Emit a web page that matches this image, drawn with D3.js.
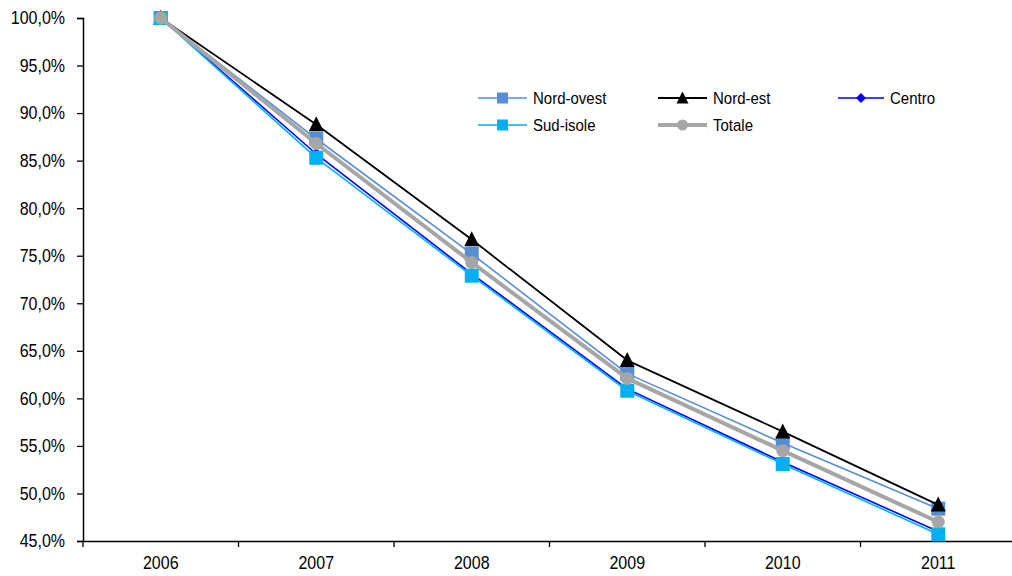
<!DOCTYPE html>
<html><head><meta charset="utf-8">
<script src="https://cdn.jsdelivr.net/npm/d3@7"></script>
<style>
body{margin:0;background:#fff;}
text{font-family:"Liberation Sans",Arial,sans-serif;fill:#000;}
</style></head>
<body><svg id="c" width="1012" height="576"></svg>
<script>
const years = ["2006","2007","2008","2009","2010","2011"];
const nordOvest = [1.000, 0.873, 0.752, 0.626, 0.553, 0.484];
const nordEst   = [1.000, 0.888, 0.767, 0.640, 0.565, 0.488];
const centro    = [1.000, 0.857, 0.731, 0.610, 0.533, 0.460];
const sudIsole  = [1.000, 0.853, 0.729, 0.608, 0.531, 0.457];
const totale    = [1.000, 0.868, 0.743, 0.621, 0.545, 0.470];
const yTicks = [0.45,0.50,0.55,0.60,0.65,0.70,0.75,0.80,0.85,0.90,0.95,1.00];

const series = [
  {name:"Nord-ovest", values:nordOvest, color:"#558ED5", width:1.6, marker:"square", size:14},
  {name:"Nord-est", values:nordEst, color:"#000000", width:1.8, marker:"triangle", size:15},
  {name:"Centro", values:centro, color:"#0000FF", width:1.6, marker:"diamond", size:12},
  {name:"Sud-isole", values:sudIsole, color:"#00B0F0", width:1.6, marker:"square", size:14},
  {name:"Totale", values:totale, color:"#A6A6A6", width:4, marker:"circle", size:13}
];

const svg = d3.select("#c");
const x = d3.scaleBand().domain(years).range([83, 1016]);
const y = d3.scaleLinear().domain([0.45, 1.0]).range([541, 18]);

const fmt = v => d3.format(".1f")(v*100).replace(".", ",") + "%";
const SY = 1.15;

// axes
const yAxis = svg.append("g").attr("transform","translate(83,0)")
  .call(d3.axisLeft(y).tickValues(yTicks).tickFormat(fmt).tickSize(6).tickPadding(12));
yAxis.select(".domain").attr("stroke","#000").attr("stroke-width",1.5);
yAxis.selectAll(".tick line").attr("stroke","#000").attr("stroke-width",1.3);
yAxis.selectAll("text").attr("font-size","16px").attr("font-family","Liberation Sans, Arial, sans-serif")
  .attr("transform",`scale(1,${SY})`);

const xAxis = svg.append("g").attr("transform","translate(0,541)")
  .call(d3.axisBottom(x).tickSize(0).tickPadding(13));
xAxis.select(".domain").attr("stroke","#000").attr("stroke-width",1.5);
xAxis.selectAll("text").attr("font-size","16px").attr("font-family","Liberation Sans, Arial, sans-serif")
  .attr("transform",`scale(1,${SY})`);
// boundary ticks between categories
svg.append("g").selectAll("line").data(years).join("line")
  .attr("x1", d => x(d)).attr("x2", d => x(d))
  .attr("y1", 541).attr("y2", 547).attr("stroke","#000").attr("stroke-width",1.3);

function markerPath(type, s){
  if(type==="square") return d3.symbol(d3.symbolSquare, s*s)();
  if(type==="triangle"){ const h=s; return `M0,${-h*0.55}L${s/2},${h*0.45}L${-s/2},${h*0.45}Z`; }
  if(type==="diamond"){ const r=s/2; return `M0,${-r}L${r},0L0,${r}L${-r},0Z`; }
  if(type==="circle") return d3.symbol(d3.symbolCircle, Math.PI*(s/2)*(s/2))();
}

const cx = d => x(d) + x.bandwidth()/2;
const line = d3.line().x((v,i)=>cx(years[i])).y(v=>y(v));

series.forEach(s => {
  const g = svg.append("g");
  g.append("path").datum(s.values).attr("d", line)
    .attr("fill","none").attr("stroke", s.color).attr("stroke-width", s.width).attr("stroke-linejoin","round");
  g.selectAll("path.m").data(s.values).join("path").attr("class","m")
    .attr("transform",(v,i)=>`translate(${cx(years[i])},${y(v)})`)
    .attr("d", markerPath(s.marker, s.size)).attr("fill", s.color);
});

// legend
const legendPos = [[478,98],[658,98],[838,98],[478,125],[658,125]];
const legSizes = {square:11, triangle:12, diamond:10, circle:11};
series.forEach((s,i) => {
  const [lx, ly] = legendPos[i];
  const g = svg.append("g").attr("transform",`translate(${lx},${ly})`);
  const len = i===2 ? 46 : 49;
  g.append("line").attr("x1",0).attr("x2",len).attr("y1",0).attr("y2",0)
    .attr("stroke", s.color).attr("stroke-width", s.width);
  g.append("path").attr("transform",`translate(${len/2},0)`).attr("d", markerPath(s.marker, legSizes[s.marker])).attr("fill", s.color);
  g.append("text").attr("x", len+6).attr("y",0).attr("dy","0.36em").attr("font-size","15px")
    .attr("transform",`scale(1,${SY})`).text(s.name);
});
</script></body></html>
